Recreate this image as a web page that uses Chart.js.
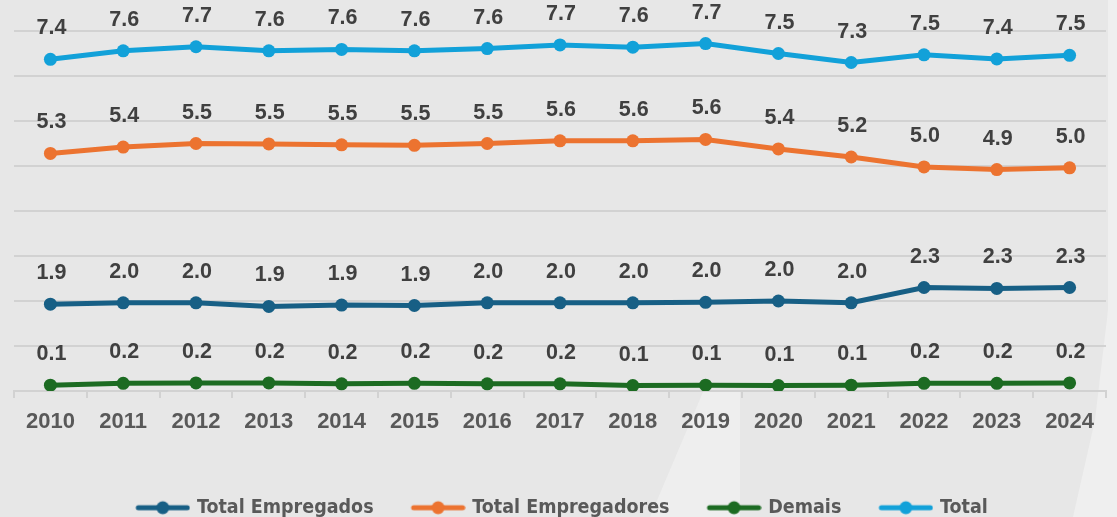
<!DOCTYPE html>
<html><head><meta charset="utf-8">
<script src="https://cdn.jsdelivr.net/npm/chart.js@4.4.0/dist/chart.umd.min.js"></script>
<style>
html,body{margin:0;padding:0;background:#e7e7e7;overflow:hidden}
#wrap{position:relative;width:1117px;height:517px}
.patch{position:absolute;left:0;top:0;width:1117px;height:517px}
canvas{position:absolute;left:0;top:0}
</style></head><body>
<div id="wrap">
<div class="patch" style="background:#eeeeee;clip-path:polygon(703px 392px,740px 392px,740px 517px,650px 517px)"></div>
<div class="patch" style="background:#efefef;clip-path:polygon(1108px 0,1117px 0,1117px 517px,1073px 517px,1095px 420px,1108px 310px)"></div>
<canvas id="c" width="1117" height="517"></canvas>
</div>
<script>
const years = ['2010','2011','2012','2013','2014','2015','2016','2017','2018','2019','2020','2021','2022','2023','2024'];
const totalEmpregados   = [1.93,1.96,1.96,1.88,1.91,1.90,1.96,1.96,1.96,1.97,2.00,1.96,2.30,2.28,2.30];
const totalEmpregadores = [5.28,5.42,5.50,5.49,5.47,5.46,5.50,5.56,5.56,5.59,5.38,5.20,4.98,4.92,4.96];
const demais            = [0.13,0.17,0.18,0.18,0.16,0.17,0.16,0.16,0.12,0.13,0.12,0.13,0.17,0.17,0.18];
const total             = [7.37,7.56,7.65,7.56,7.59,7.56,7.61,7.69,7.64,7.72,7.50,7.30,7.47,7.38,7.46];
const seriesNames = ['Total Empregados','Total Empregadores','Demais','Total'];
const seriesColors = ['#175f85','#ec7330','#1c6b22','#12a1d9'];
const yTicks = {min:0, max:8, step:1};

const LEG_FONT = "'DejaVu Sans Condensed','Liberation Sans Narrow','Roboto',sans-serif";
const LBL_FONT = "'Liberation Sans','Arial',sans-serif";

function legendSymbol(color){
  const cv = document.createElement('canvas');
  cv.width = 61; cv.height = 16;
  const g = cv.getContext('2d');
  g.strokeStyle = color; g.lineWidth = 5; g.lineCap = 'round';
  g.beginPath(); g.moveTo(9,8); g.lineTo(58,8); g.stroke();
  g.fillStyle = color; g.beginPath(); g.arc(33.5,8,6.5,0,Math.PI*2); g.fill();
  return cv;
}
const symbols = seriesColors.map(legendSymbol);

const dataLabels = {
  id:'dataLabels',
  afterDatasetsDraw(chart){
    const ctx = chart.ctx;
    ctx.save();
    ctx.font = "bold 21.5px " + LBL_FONT;
    ctx.fillStyle = '#404040';
    ctx.textAlign = 'center';
    ctx.textBaseline = 'alphabetic';
    chart.data.datasets.forEach((ds,i)=>{
      const meta = chart.getDatasetMeta(i);
      meta.data.forEach((pt,j)=>{
        ctx.fillText(ds.data[j].toFixed(1), pt.x + 1, pt.y - 25);
      });
    });
    ctx.restore();
  }
};

const allSeries = [totalEmpregados,totalEmpregadores,demais,total];
const datasets = allSeries.map((d,i)=>({
  label: seriesNames[i],
  data: d,
  borderColor: seriesColors[i],
  backgroundColor: seriesColors[i],
  borderWidth: 5,
  pointRadius: 6.5,
  pointHoverRadius: 6.5,
  pointBackgroundColor: seriesColors[i],
  pointBorderWidth: 0,
  tension: 0,
  pointStyle: 'circle'
}));

new Chart(document.getElementById('c'), {
  type:'line',
  data:{labels: years, datasets},
  plugins:[dataLabels],
  options:{
    responsive:false,
    animation:false,
    devicePixelRatio:1,
    layout:{padding:{left:14,right:11,top:31,bottom:-10.5}},
    plugins:{
      tooltip:{enabled:false},
      legend:{
        position:'bottom',
        labels:{
          usePointStyle:true,
          pointStyleWidth:55,
          padding:34,
          color:'#595959',
          font:{family:LEG_FONT,size:19.5,weight:'bold'},
          generateLabels(chart){
            return chart.data.datasets.map((ds,i)=>({
              text: ds.label,
              pointStyle: symbols[i],
              fillStyle: ds.borderColor,
              strokeStyle: ds.borderColor,
              lineWidth:0,
              fontColor:'#595959',
              datasetIndex:i,
              hidden:false
            }));
          }
        }
      }
    },
    scales:{
      x:{
        offset:true,
        grid:{offset:true,drawOnChartArea:false,drawTicks:true,tickLength:7,color:'#d2d2d2',lineWidth:2},
        border:{display:true,color:'#d2d2d2',width:2},
        ticks:{color:'#595959',font:{family:LBL_FONT,size:22,weight:'bold'},padding:11,maxRotation:0,autoSkip:false},
        afterFit(s){ s.height = 73; }
      },
      y:{
        min:yTicks.min,max:yTicks.max,
        ticks:{stepSize:yTicks.step,display:false},
        grid:{color:'#d2d2d2',lineWidth:2,drawTicks:false},
        border:{display:false}
      }
    }
  }
});
</script>
</body></html>
